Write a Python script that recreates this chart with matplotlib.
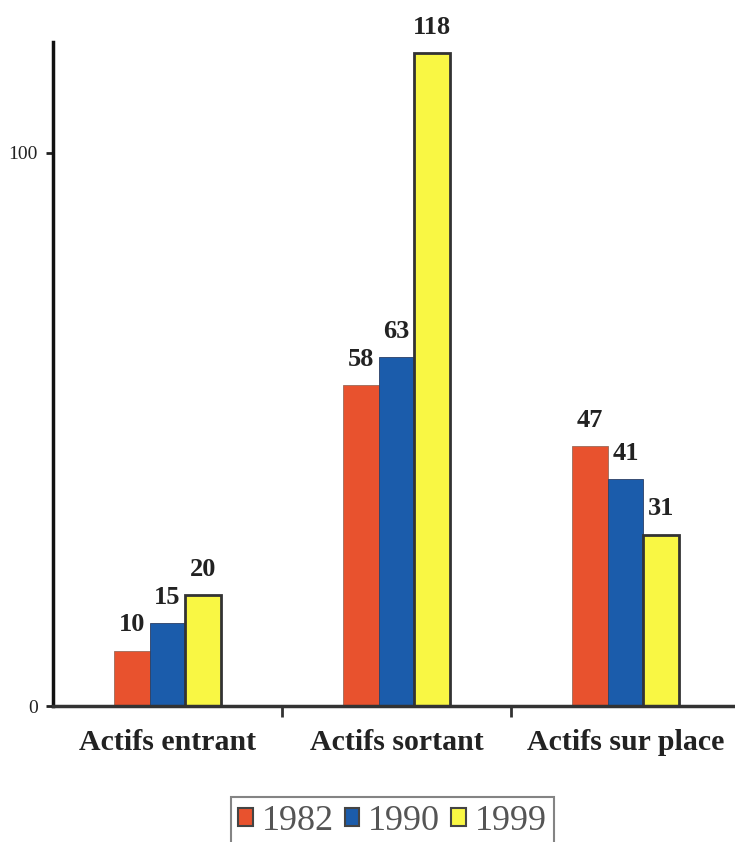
import matplotlib
matplotlib.use("Agg")
import matplotlib.pyplot as plt
from matplotlib.patches import Patch
import numpy as np

categories = ["Actifs entrant", "Actifs sortant", "Actifs sur place"]
years = ["1982", "1990", "1999"]
values = {
    "1982": [10, 58, 47],
    "1990": [15, 63, 41],
    "1999": [20, 118, 31],
}
colors = {"1982": "#E8522E", "1990": "#1B5CAB", "1999": "#F9F744"}
edges = {"1982": "#9a6a5a", "1990": "#2a3f66", "1999": "#333333"}

plt.rcParams['font.family'] = ['Liberation Serif', 'DejaVu Serif']

fig = plt.figure(figsize=(7.35, 8.42), dpi=100)
ax = fig.add_axes([0.072, 0.1615, 0.935, 0.7885])

x = np.arange(len(categories))
w = 0.155
for i, yr in enumerate(years):
    pos = x + (i - 1) * w
    bars = ax.bar(pos, values[yr], width=w, color=colors[yr],
                  edgecolor=edges[yr], linewidth=2.0 if yr == "1999" else 0.6,
                  zorder=2)
    for b, v in zip(bars, values[yr]):
        ax.text(b.get_x() + b.get_width() / 2, v + 2.6, str(v),
                ha="center", va="bottom", fontsize=19, fontweight="bold",
                color="#222222")

ax.set_xlim(-0.5, 2.5)
ax.set_ylim(0, 120)
ax.set_yticks([0, 100])
ax.set_yticklabels(["0", "100"], fontsize=14, color="#222222")
ax.set_xticks([0.5, 1.5])
ax.set_xticklabels([])
ax.tick_params(axis="x", direction="out", length=8, width=2, color="#333333")
ax.tick_params(axis="y", direction="out", length=5, width=2, color="#222222", pad=6)
for i, c in enumerate(categories):
    ax.text(x[i], -6.6, c, ha="center", va="center", fontsize=21.5,
            fontweight="bold", color="#222222", transform=ax.transData)

for s in ["top", "right"]:
    ax.spines[s].set_visible(False)
ax.spines["left"].set_linewidth(2.5)
ax.spines["bottom"].set_linewidth(2.5)
ax.spines["left"].set_color("#111111")
ax.spines["bottom"].set_color("#333333")

handles = [Patch(facecolor=colors[y], edgecolor="#444444", linewidth=1.5) for y in years]
leg = fig.legend(handles, years, loc="upper center", bbox_to_anchor=(0.534, 0.053),
                 ncol=3, fontsize=26, frameon=True, fancybox=False,
                 edgecolor="#666666", handlelength=0.4, handleheight=0.4,
                 handletextpad=0.25, columnspacing=0.3, borderpad=0.2,
                 borderaxespad=0)
leg.get_frame().set_linewidth(1.5)
for t in leg.get_texts():
    t.set_color("#555555")

fig.savefig("out.png", dpi=100)
